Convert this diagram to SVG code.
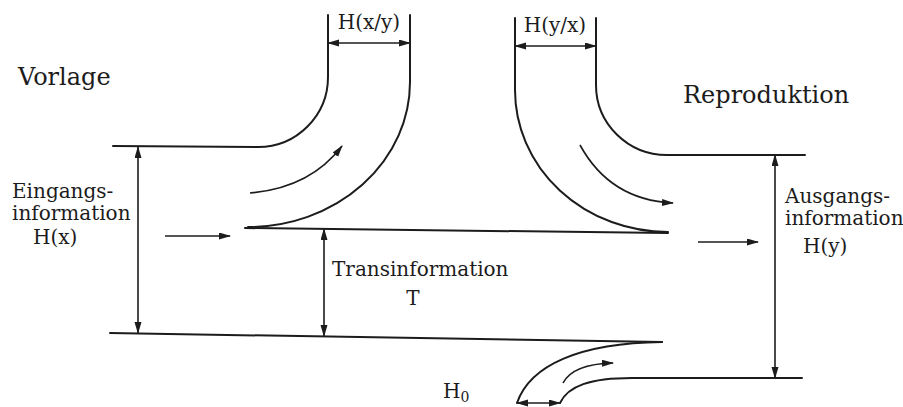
<svg xmlns="http://www.w3.org/2000/svg" width="903" height="407" viewBox="0 0 903 407">
<style>
.ln{fill:none;stroke:#1c1c1c;stroke-width:2;stroke-linecap:round}
.ar{fill:none;stroke:#1c1c1c;stroke-width:1.6}
.t{font-family:"DejaVu Serif","Liberation Serif",serif;font-size:20px;fill:#1c1c1c}
.big{font-size:24px}
</style>
<defs>
<marker id="ah" markerUnits="userSpaceOnUse" markerWidth="12" markerHeight="8" refX="11" refY="3.5" orient="auto-start-reverse">
<path d="M0,0 L12,3.5 L0,7 z" fill="#1c1c1c"/>
</marker>
</defs>
<rect width="903" height="407" fill="#ffffff"/>
<g id="channel">
<path class="ln" d="M113,146 L258,147 A70,70 0 0 0 328,77 L328,15"/>
<path class="ln" d="M410,15 L410,82 A162,145 0 0 1 248,227"/>
<path class="ln" d="M245,228 L668,233"/>
<path class="ln" d="M515,18 L515,90 A153,142 0 0 0 668,232"/>
<path class="ln" d="M596,18 L596,85 A71,70 0 0 0 667,155 L805,155"/>
<path class="ln" d="M110,333 L662,342"/>
<path class="ln" d="M517,403 C530,365 580,343 662,342"/>
<path class="ln" d="M560,403 C568,386 590,378 632,378 L802,378"/>
</g>
<g id="connectors">
<path class="ar" d="M328,43 L410,43" marker-start="url(#ah)" marker-end="url(#ah)"/>
<path class="ar" d="M515,46 L596,46" marker-start="url(#ah)" marker-end="url(#ah)"/>
<path class="ar" d="M138,147 L138,333" marker-start="url(#ah)" marker-end="url(#ah)"/>
<path class="ar" d="M324,229 L324,336" marker-start="url(#ah)" marker-end="url(#ah)"/>
<path class="ar" d="M775,155 L775,378" marker-start="url(#ah)" marker-end="url(#ah)"/>
<path class="ar" d="M517,403 L560,403" marker-start="url(#ah)" marker-end="url(#ah)"/>
<path class="ar" d="M165,236 L230,236" marker-end="url(#ah)"/>
<path class="ar" d="M698,242 L758,242" marker-end="url(#ah)"/>
<path class="ar" d="M250,193 Q310,188 342,146" marker-end="url(#ah)"/>
<path class="ar" d="M580,145 Q610,200 673,203" marker-end="url(#ah)"/>
<path class="ar" d="M563,383 Q573,364 613,363" marker-end="url(#ah)"/>
</g>
<g id="labels">
<text class="t big" x="18" y="85">Vorlage</text>
<text class="t big" x="683" y="103">Reproduktion</text>
<text class="t" x="369" y="29" text-anchor="middle">H(x/y)</text>
<text class="t" x="555" y="32" text-anchor="middle">H(y/x)</text>
<text class="t" x="12" y="198">Eingangs-</text>
<text class="t" x="12" y="220">information</text>
<text class="t" x="33" y="244">H(x)</text>
<text class="t" x="785" y="203">Ausgangs-</text>
<text class="t" x="785" y="225">information</text>
<text class="t" x="803" y="253">H(y)</text>
<text class="t" x="332" y="276">Transinformation</text>
<text class="t" x="413" y="305" text-anchor="middle">T</text>
<text class="t" x="443" y="398">H<tspan font-size="14px" dy="4">0</tspan></text>
</g>
</svg>
